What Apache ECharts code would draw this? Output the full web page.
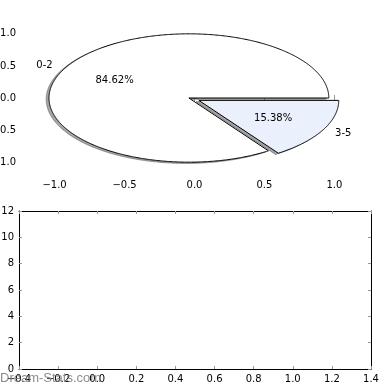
<!DOCTYPE html>
<html>
<head>
<meta charset="utf-8">
<script src="https://cdn.jsdelivr.net/npm/echarts@6/dist/echarts.min.js"></script>
<style>html,body{margin:0;padding:0;background:#fff;}#c{width:390px;height:390px;}</style>
</head>
<body>
<div id="c"></div>
<script>
const categories = ['0-2', '3-5'];
const values = [11, 2];
const explode = [0, 0.08];
const pieCenter = [-0.04, 0];
const sliceColors = ['#ffffff', '#eaf0fc'];
const pieTicks = [-1.0, -0.5, 0.0, 0.5, 1.0];
const barXRange = [-0.4, 1.4];
const barYRange = [0, 12];

const FONT = 'DejaVu Sans';
const total = values.reduce((a, b) => a + b, 0);
function wedgeAngles(i) {
  let before = 0;
  for (let k = 0; k < i; k++) before += values[k];
  const t1 = before / total * 360;
  const t2 = (before + values[i]) / total * 360;
  return [t1, t2];
}
function wedgeCenter(i) {
  const [t1, t2] = wedgeAngles(i);
  const mid = (t1 + t2) / 2 * Math.PI / 180;
  return [pieCenter[0] + explode[i] * Math.cos(mid), pieCenter[1] + explode[i] * Math.sin(mid), mid];
}
function wedgePoints(i, api, ox, oy) {
  const [t1, t2] = wedgeAngles(i);
  const c = wedgeCenter(i);
  const cx = c[0] + ox, cy = c[1] + oy;
  const pts = [api.coord([cx, cy])];
  const n = Math.max(8, Math.ceil((t2 - t1) / 0.5));
  for (let k = 0; k <= n; k++) {
    const a = (t1 + (t2 - t1) * k / n) * Math.PI / 180;
    pts.push(api.coord([cx + Math.cos(a), cy + Math.sin(a)]));
  }
  return pts;
}
const fmt = v => (Math.abs(v) < 1e-9 ? 0 : v).toFixed(1).replace('-', '\u2212');
const tickStyle = { show: true, inside: true, length: 3, lineStyle: { color: '#999', width: 1 } };

function pieAxis(pos, labels, gi) {
  const vert = pos === 'left' || pos === 'right';
  return {
    gridIndex: gi, type: 'value', min: vert ? -1.2 : -1.24, max: vert ? 1.2 : 1.24, position: pos,
    axisLine: { show: false }, splitLine: { show: false },
    axisTick: Object.assign({ customValues: pieTicks }, tickStyle),
    axisLabel: Object.assign({ show: labels, customValues: pieTicks, formatter: fmt, color: '#000', fontSize: 10, fontFamily: FONT, margin: 5 },
      pos === 'left' ? { align: 'right' } : {})
  };
}
function barAxis(pos, labels, gi, range, interval, fmtFn) {
  return {
    gridIndex: gi, type: 'value', min: range[0], max: range[1], interval: interval, position: pos,
    axisLine: { show: true, onZero: false, lineStyle: { color: '#000', width: 1 } },
    splitLine: { show: false },
    axisTick: tickStyle,
    axisLabel: Object.assign({ show: labels, formatter: fmtFn, color: '#000', fontSize: 10, fontFamily: FONT, margin: 5, showMinLabel: true, showMaxLabel: true },
      pos === 'left' ? { align: 'right' } : {})
  };
}

const chart = echarts.init(document.getElementById('c'), null, { renderer: 'canvas' });
chart.setOption({
  animation: false,
  backgroundColor: '#fff',
  grid: [
    { left: 21, top: 21, width: 347, height: 154, containLabel: false, outerBoundsMode: 'none' },
    { left: 19, top: 211, width: 352, height: 158, containLabel: false, outerBoundsMode: 'none' }
  ],
  xAxis: [
    pieAxis('bottom', true, 0),
    pieAxis('top', false, 0),
    barAxis('bottom', true, 1, barXRange, 0.2, fmt),
    barAxis('top', false, 1, barXRange, 0.2, fmt)
  ],
  yAxis: [
    pieAxis('left', true, 0),
    pieAxis('right', false, 0),
    barAxis('left', true, 1, barYRange, 2, v => String(Math.round(v))),
    barAxis('right', false, 1, barYRange, 2, v => String(Math.round(v)))
  ],
  series: [
    {
      type: 'custom', coordinateSystem: 'cartesian2d', xAxisIndex: 0, yAxisIndex: 0, z: 1,
      data: values.map((v, i) => [0, 0, i]),
      renderItem: function (params, api) {
        const i = params.dataIndex;
        return {
          type: 'polygon',
          shape: { points: wedgePoints(i, api, -0.02, -0.02) },
          style: { fill: 'rgba(77,77,77,0.5)', stroke: 'rgba(77,77,77,0.5)', lineWidth: 1 }
        };
      }
    },
    {
      type: 'custom', coordinateSystem: 'cartesian2d', xAxisIndex: 0, yAxisIndex: 0, z: 2,
      data: values.map((v, i) => [0, 0, i]),
      renderItem: function (params, api) {
        const i = params.dataIndex;
        const [cx, cy, mid] = wedgeCenter(i);
        const lx = cx + 1.1 * Math.cos(mid), ly = cy + 1.1 * Math.sin(mid);
        const px = cx + 0.6 * Math.cos(mid), py = cy + 0.6 * Math.sin(mid);
        const lp = api.coord([lx, ly]);
        const pp = api.coord([px, py]);
        const right = Math.cos(mid) > 0;
        return {
          type: 'group',
          children: [
            {
              type: 'polygon',
              shape: { points: wedgePoints(i, api, 0, 0) },
              style: { fill: sliceColors[i], stroke: '#000', lineWidth: 1 }
            },
            {
              type: 'text', x: lp[0], y: lp[1],
              style: { text: categories[i], fill: '#000', fontSize: 10, fontFamily: FONT, align: right ? 'left' : 'right', verticalAlign: 'middle' }
            },
            {
              type: 'text', x: pp[0], y: pp[1],
              style: { text: (values[i] / total * 100).toFixed(2) + '%', fill: '#000', fontSize: 10, fontFamily: FONT, align: 'center', verticalAlign: 'middle' }
            }
          ]
        };
      }
    }
  ],
  graphic: [
    {
      type: 'text', left: 0, top: 372, z: 100,
      style: { text: 'Dream-Stats.com', fill: 'rgba(120,120,120,0.85)', fontSize: 13, fontFamily: 'Liberation Sans' }
    }
  ]
});
</script>
</body>
</html>
